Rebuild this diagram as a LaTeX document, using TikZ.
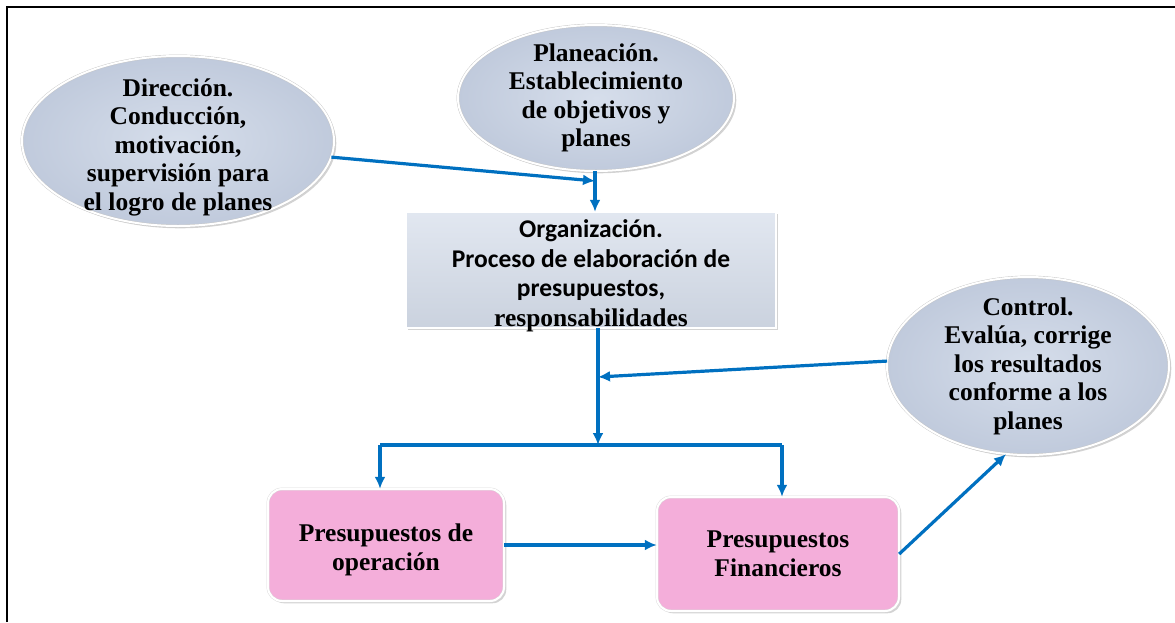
\documentclass[tikz,border=0pt]{standalone}
\usepackage{fontspec}
\setmainfont{Liberation Serif}
\newfontfamily\calibri{Carlito}
\usetikzlibrary{arrows.meta}
\usetikzlibrary{shapes.geometric,shadows}

\definecolor{azulfle}{RGB}{0,112,192}
\definecolor{elipgris}{RGB}{214,222,235}
\definecolor{elipborde}{RGB}{192,202,220}
\definecolor{cajagris}{RGB}{213,221,234}
\definecolor{rosa}{RGB}{244,174,218}

\begin{document}
\begin{tikzpicture} [x=1pt,y=-1pt,
  elip/.style={ellipse, draw=gray!45, double=white, double distance=2pt,
    inner color=elipgris, outer color=elipborde, drop shadow={opacity=.35},
    align=center, inner sep=-16pt,
    font=\fontsize{25.5}{28.5}\selectfont\bfseries},
  caja/.style={rectangle, draw=gray!45, double=white, double distance=2pt,
    top color=cajagris!70!white, bottom color=cajagris!95!black,
    drop shadow={opacity=.35}, inner sep=0pt},
  cajarosa/.style={rectangle, rounded corners=14pt, draw=gray!30, double=white,
    double distance=2pt, fill=rosa, drop shadow={opacity=.35}, align=center,
    inner sep=0pt, font=\fontsize{25.5}{29}\selectfont\bfseries},
  flecha/.style={azulfle, line width=3.2pt, >={Latex[length=12pt,width=11pt]}}]
\useasboundingbox (0,0) rectangle (1175,622);
% marco
\draw[line width=2.5pt] (7,622) -- (7,7) -- (1175,7);

% nodos
\node[elip, minimum width=312pt, minimum height=170pt] (dir) at (178,141)
  {\rule{0pt}{30pt}Dirección.\\Conducción,\\motivación,\\supervisión para\\el logro de planes};
\node[elip, minimum width=276pt, minimum height=146pt] (pla) at (596,98)
  {Planeación.\\Establecimiento\\de objetivos y\\planes};
\node[caja, minimum width=370pt, minimum height=116pt] (org) at (591,270) {};
\node[align=center, font=\fontsize{25.5}{29.5}\selectfont\bfseries] (orgtxt)
  at ([yshift=-6pt]org.center)
  {\calibri Organización.\\
   \calibri Proceso de elaboración de\\
   \calibri presupuestos,\\
   responsabilidades};
\node[elip, minimum width=282pt, minimum height=178pt] (con) at (1028,366)
  {Control.\\Evalúa, corrige\\los resultados\\conforme a los\\planes};
\node[cajarosa, minimum width=236pt, minimum height=112pt] (op) at (386,545)
  {\rule{0pt}{28pt}Presupuestos de\\operación};
\node[cajarosa, minimum width=242pt, minimum height=114pt] (fin) at (778,554)
  {Presupuestos\\Financieros};

% conectores
\coordinate (j1) at (595,181);
\coordinate (j2) at (598,445);
\coordinate (j3) at (598,377);
\coordinate (izq) at (380,445);
\coordinate (der) at (782,445);
\draw[flecha,->] (dir.-6) -- (j1);
\draw[flecha,->] (pla.south -| j1) -- (j1 |- org.north);
\draw[flecha,->] (org.south -| j2) -- (j2);
\draw[flecha,->] (con.178) -- (j3);
\draw[flecha] (izq) -- (der);
\draw[flecha,->] (izq) -- (izq |- op.north);
\draw[flecha,->] (der) -- (der |- fin.north);
\draw[flecha,->] (op.east) -- (op.east -| fin.west);
\draw[flecha,->] (fin.east) -- (con.256);
\end{tikzpicture}
\end{document}
